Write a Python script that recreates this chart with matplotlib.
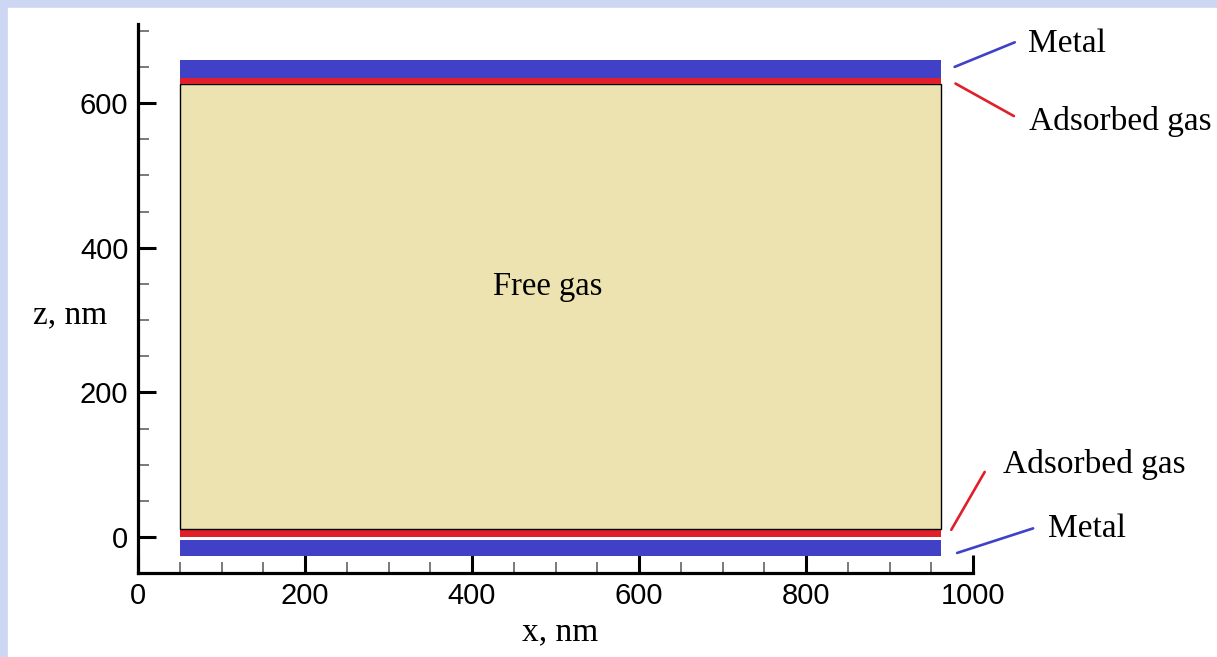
import matplotlib
matplotlib.use("Agg")
import matplotlib.pyplot as plt
from matplotlib.patches import Rectangle
from matplotlib.ticker import MultipleLocator

# channel layers, bottom to top (z in nm)
layer_names = ["Metal", "Adsorbed gas", "Free gas", "Adsorbed gas", "Metal"]
z_bottom = [-26, 0, 11, 626, 635]
z_top = [-4, 11, 626, 635, 660]
x_start = 50
x_end = 962

LAYER_COLORS = {
    "Metal": "#4141c8",
    "Adsorbed gas": "#e01f2b",
    "Free gas": "#ede3b1",
}

# callout labels: text position and leader line (start, end)
callout_text = ["Metal", "Adsorbed gas", "Adsorbed gas", "Metal"]
callout_xy = [(1066, 670), (1067, 563), (1036, 89), (1090, 0)]
callout_line = [
    ((978, 650), (1050, 684)),
    ((979, 627), (1049, 582)),
    ((974, 10), (1014, 90)),
    ((981, -22), (1072, 12)),
]

SERIF = ["Liberation Serif", "DejaVu Serif"]
SANS = ["Liberation Sans", "DejaVu Sans"]

fig = plt.figure(figsize=(12.17, 6.57), dpi=100, facecolor="#cdd6f3")
fig.patches.append(Rectangle((8 / 1217, 0), 1, 1 - 8 / 657,
                             transform=fig.transFigure, color="white", zorder=-1))

ax = fig.add_axes([138 / 1217, 1 - 573.2 / 657, 835 / 1217, 549.7 / 657])
ax.patch.set_visible(False)

for name, lo, hi in zip(layer_names, z_bottom, z_top):
    edge = "black" if name == "Free gas" else "none"
    ax.barh(lo, x_end - x_start, height=hi - lo, left=x_start, align="edge",
            color=LAYER_COLORS[name], edgecolor=edge, linewidth=1.0, zorder=2)

ax.text(425, 334, "Free gas", family=SERIF, fontsize=23.5, va="baseline", zorder=3)

for txt, (tx, ty), (p0, p1) in zip(callout_text, callout_xy, callout_line):
    col = LAYER_COLORS[txt]
    ax.plot([p0[0], p1[0]], [p0[1], p1[1]], color=col, lw=1.9,
            clip_on=False, solid_capstyle="round")
    ax.text(tx, ty, txt, family=SERIF, fontsize=24, va="baseline",
            ha="left", clip_on=False)

ax.set_xlim(0, 1000)
ax.set_ylim(-50, 710)

ax.spines["top"].set_visible(False)
ax.spines["right"].set_visible(False)
for s in ("left", "bottom"):
    ax.spines[s].set_linewidth(2.3)

ax.xaxis.set_major_locator(MultipleLocator(200))
ax.xaxis.set_minor_locator(MultipleLocator(50))
ax.set_yticks([0, 200, 400, 600])
ax.yaxis.set_minor_locator(MultipleLocator(50))

ax.tick_params(which="major", direction="in", length=13, width=2.2,
               labelsize=21)
ax.tick_params(which="minor", direction="in", length=8, width=1.1,
               color="#555555")
ax.tick_params(axis="x", which="major", pad=6)
ax.tick_params(axis="y", which="major", pad=7)
for lab in ax.get_xticklabels() + ax.get_yticklabels():
    lab.set_family(SANS)

ax.set_xlabel("x, nm", family=SERIF, fontsize=24, va="baseline", ha="center")
ax.xaxis.set_label_coords(0.5054, -0.1218)
ax.set_ylabel("z, nm", family=SERIF, fontsize=24, rotation=0,
              va="baseline", ha="center")
ax.yaxis.set_label_coords(-0.0814, 0.4545)

fig.savefig("out.png", dpi=100, facecolor=fig.get_facecolor())
